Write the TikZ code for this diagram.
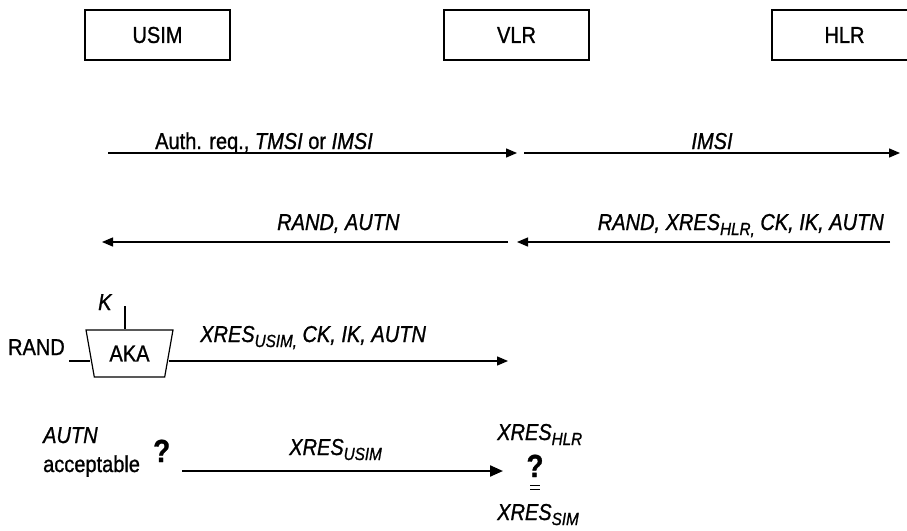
\documentclass[tikz,border=0pt]{standalone}
\usepackage{fontspec}
\setmainfont{Liberation Sans}[FakeStretch=0.87,FakeBold=1]
\usetikzlibrary{arrows.meta,shapes.geometric}
% lowered, smaller subscript used in the XRES labels
\newcommand\lowsub[1]{\raisebox{-5pt}{\fontsize{17.5}{17.5}\selectfont #1}}
\newcommand\bigq{{\fontsize{32}{32}\selectfont\bfseries ?}}

\begin{document}
\begin{tikzpicture}[x=1pt,y=-1pt,
  font=\fontsize{23}{25}\selectfont,
  entity/.style={draw, line width=1.2pt, minimum width=145pt, minimum height=50pt, inner sep=0pt},
  msg/.style={line width=1.3pt, -{Triangle[length=11pt,width=9pt]}},
  bigmsg/.style={line width=2.2pt, -{Triangle[length=13pt,width=11pt]}},
  lbl/.style={inner sep=0pt, anchor=base west},
  wire/.style={line width=1.2pt}]
\clip (0,0) rectangle (907,530);

% entities
\node[entity] (usim) at (157.5,35) {USIM};
\node[entity] (vlr)  at (516.5,35) {VLR};
\node[entity] (hlr)  at (844.5,35) {HLR};

% authentication request
\coordinate (m1a) at (108,153); \coordinate (m1b) at (517,153);
\coordinate (m2a) at (524,153); \coordinate (m2b) at (900,153);
\draw[msg] (m1a) -- (m1b);
\draw[msg] (m2a) -- (m2b);
\node[lbl] (l1) at (155,149) {Auth. req., \textit{TMSI} or \textit{IMSI}};
\node[lbl, anchor=base] (l2) at (712,149) {\textit{IMSI}};

% authentication vectors back
\coordinate (m3a) at (508,242); \coordinate (m3b) at (102,242);
\coordinate (m4a) at (890,242); \coordinate (m4b) at (517,242);
\draw[msg] (m3a) -- (m3b);
\draw[msg] (m4a) -- (m4b);
\node[lbl] (l3) at (277,230) {\textit{RAND, AUTN}};
\node[lbl, anchor=base east] (l4) at (884,230) {\textit{RAND, XRES\lowsub{HLR,} CK, IK, AUTN}};

% AKA function in the USIM
\node[trapezium, draw, line width=1.2pt, shape border rotate=180,
      trapezium left angle=73.4, trapezium right angle=73.4,
      minimum width=87pt, minimum height=47pt, trapezium stretches=true,
      inner sep=0pt] (aka) at (129.5,353.5) {\raisebox{-4pt}{AKA}};
\coordinate (kin) at (125,306);
\draw[wire] (kin) -- (kin |- aka.north);
\node[lbl] (k) at (98,310) {\textit{K}};
\node[lbl, anchor=base east] (rand) at (65,355) {RAND};
\coordinate (rin) at (69,361);
\draw[wire] (rin) -- (rin -| aka.west);
\coordinate (m5b) at (508,361);
\draw[msg] (aka.east |- rin) -- (m5b);
\node[lbl] (l5) at (200,342) {\textit{XRES\lowsub{USIM,} CK, IK, AUTN}};

% response and comparison
\node[lbl] (autn) at (43,443) {\textit{AUTN}};
\node[lbl] (acc) at (43,472) {acceptable};
\node[lbl] (q1) at (153,462) {\bigq};
\coordinate (m6a) at (182,471); \coordinate (m6b) at (503,471);
\draw[bigmsg] (m6a) -- (m6b);
\node[lbl, anchor=base east] (l6) at (382,455) {\textit{XRES\lowsub{USIM}}};
\node[lbl] (xh) at (497,440) {\textit{XRES\lowsub{HLR}}};
% question mark over an equals sign
\node[inner sep=0pt, anchor=base] (q2) at (535,477) {\bigq};
\draw[line width=1pt] ([xshift=-5pt,yshift=-8pt]q2.base) -- ([xshift=5pt,yshift=-8pt]q2.base)
                      ([xshift=-5pt,yshift=-12pt]q2.base) -- ([xshift=5pt,yshift=-12pt]q2.base);
\node[lbl] (xs) at (497,520) {\textit{XRES\lowsub{SIM}}};
\end{tikzpicture}
\end{document}
